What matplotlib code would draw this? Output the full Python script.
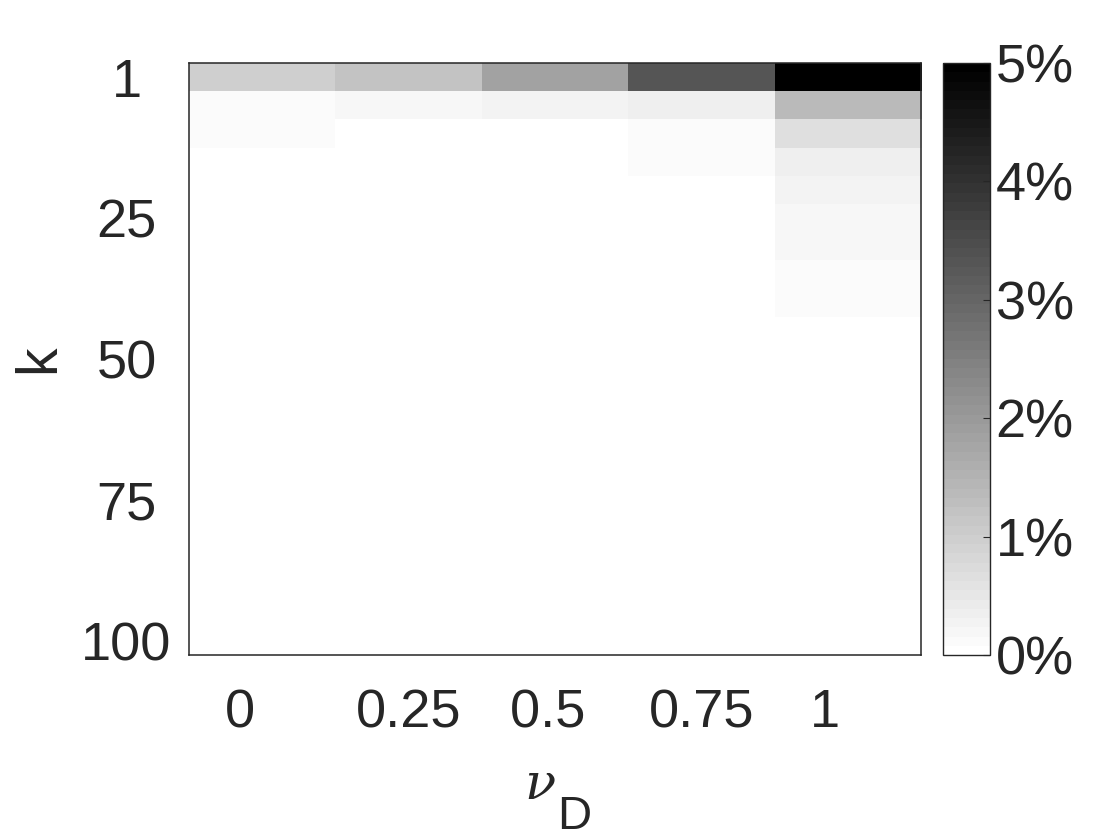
import numpy as np
import matplotlib
matplotlib.use("Agg")
import matplotlib.pyplot as plt
from matplotlib.colors import ListedColormap

# Data (percent)
nu_labels = ["0   ", "0.25", "0.5 ", "0.75", "1   "]
k_values = [1] + list(range(5, 101, 5))
k_ticklabels = ["1", "25", "50", "75", "100"]
col_0 = [0.98, 0.12, 0.12, 0, 0, 0, 0, 0, 0, 0, 0, 0, 0, 0, 0, 0, 0, 0, 0, 0, 0]
col_025 = [1.21, 0.21, 0, 0, 0, 0, 0, 0, 0, 0, 0, 0, 0, 0, 0, 0, 0, 0, 0, 0, 0]
col_05 = [1.80, 0.27, 0, 0, 0, 0, 0, 0, 0, 0, 0, 0, 0, 0, 0, 0, 0, 0, 0, 0, 0]
col_075 = [3.32, 0.35, 0.12, 0.12, 0, 0, 0, 0, 0, 0, 0, 0, 0, 0, 0, 0, 0, 0, 0, 0, 0]
col_1 = [5.0, 1.37, 0.70, 0.35, 0.27, 0.21, 0.21, 0.14, 0.14, 0, 0, 0, 0, 0, 0, 0, 0, 0, 0, 0, 0]
cbar_ticks = [0, 1, 2, 3, 4, 5]

plt.rcParams['font.family'] = ['Liberation Sans', 'DejaVu Sans']
TXT = '#262626'
FS = 39

data = np.array([col_0, col_025, col_05, col_075, col_1]).T
cmap = ListedColormap(plt.cm.gray_r(np.linspace(0, 1, 64)))

fig = plt.figure(figsize=(11.2, 8.4), dpi=100)
ax = fig.add_axes([189/1120, 1 - 655/840, 732/1120, 592/840])
im = ax.imshow(data, cmap=cmap, vmin=0, vmax=5, aspect='auto', interpolation='nearest')

ax.set_xticks(range(len(nu_labels)))
ax.set_xticklabels(nu_labels)
ytick_idx = [k_values.index(int(t)) for t in k_ticklabels]
ax.set_yticks(ytick_idx)
ax.set_yticklabels(k_ticklabels, ha='center')
ax.tick_params(axis='x', length=0, pad=24, labelsize=FS, labelcolor=TXT)
ax.tick_params(axis='y', length=0, pad=45, labelsize=FS, labelcolor=TXT)
for s in ax.spines.values():
    s.set_color(TXT)
    s.set_linewidth(1.1)

# x label: nu with subscript D (MATLAB TeX style)
ax.text(0.4795, -0.2432, '\u03bd', transform=ax.transAxes, ha='center', va='baseline',
        fontsize=37, color=TXT, family='DejaVu Serif', style='italic')
ax.text(0.5027, -0.2939, 'D', transform=ax.transAxes, ha='left', va='baseline',
        fontsize=34, color=TXT)
ax.set_ylabel('k', fontsize=41, color=TXT, labelpad=11)

cax = fig.add_axes([943/1120, 1 - 655/840, 47/1120, 592/840])
cb = fig.colorbar(im, cax=cax, ticks=cbar_ticks)
cb.set_ticklabels([f"{t}%" for t in cbar_ticks])
cax.tick_params(direction='in', length=5, width=0.8, color=TXT, labelsize=FS, labelcolor=TXT, pad=4)
cb.outline.set_edgecolor(TXT)
cb.outline.set_linewidth(1.0)

fig.savefig('out.png', dpi=100)
